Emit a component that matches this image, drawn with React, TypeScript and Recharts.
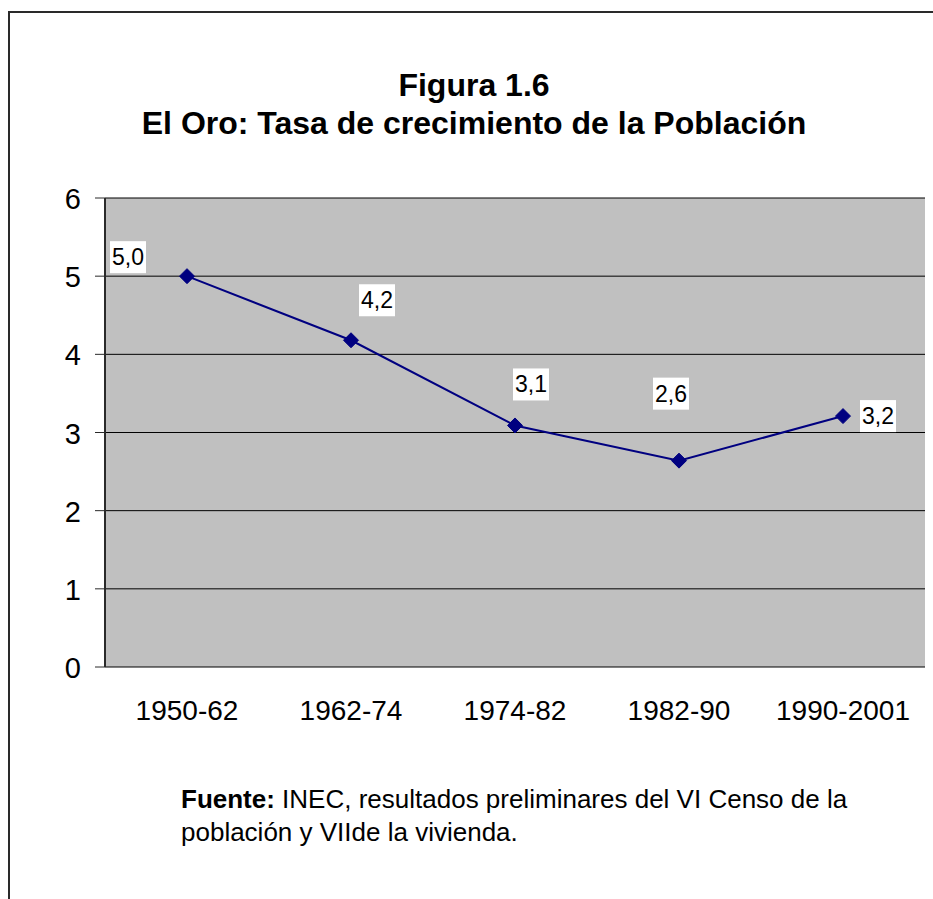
import React from 'react';
import { LineChart, Line, XAxis, YAxis, CartesianGrid, ReferenceArea, LabelList } from 'recharts';

const periods = ['1950-62', '1962-74', '1974-82', '1982-90', '1990-2001'];
const growthRates = [5.0, 4.18, 3.09, 2.64, 3.21];
const yTicks = [0, 1, 2, 3, 4, 5, 6];
const bandEdges = [0, 1, 2, 3, 4, 5];
const titleLine1 = 'Figura 1.6';
const titleLine2 = 'El Oro: Tasa de crecimiento de la Población';
const sourceLabel = 'Fuente:';
const sourceLine1 = ' INEC, resultados preliminares del VI Censo de la';
const sourceLine2 = 'población y VIIde la vivienda.';

const data = periods.map((p, i) => ({ period: p, rate: growthRates[i] }));

// label box centre offsets relative to the point (style only)
const LABEL_OFFSETS: number[][] = [[-59, -19], [26, -40], [16, -41], [-8, -67], [35, 0]];
const FONT = '"Liberation Sans", Arial, Helvetica, sans-serif';
const LINE_COLOR = '#000080';

const Diamond = (props: any) => {
  const { cx, cy, index } = props;
  if (cx == null || cy == null) return <g key={`d${index}`} />;
  const r = 7.5;
  return (
    <polygon
      key={`d${index}`}
      points={`${cx},${cy - r} ${cx + r},${cy} ${cx},${cy + r} ${cx - r},${cy}`}
      fill={LINE_COLOR}
      stroke={LINE_COLOR}
      strokeWidth={1}
    />
  );
};

const ValueLabel = (props: any) => {
  const x = props.x ?? props.viewBox?.x;
  const y = props.y ?? props.viewBox?.y;
  const index = props.index ?? 0;
  if (x == null || y == null) return null;
  const [dx, dy] = LABEL_OFFSETS[index] || [0, -30];
  const cx = x + dx;
  const cy = y + dy;
  const text = Number(props.value).toFixed(1).replace('.', ',');
  return (
    <g>
      <rect x={cx - 18} y={cy - 16} width={36} height={32} fill="#ffffff" />
      <text x={cx} y={cy + 8} textAnchor="middle" fontSize={23} fontFamily={FONT} fill="#000">
        {text}
      </text>
    </g>
  );
};

const YTick = (props: any) => (
  <text x={props.x} y={props.y + 11} textAnchor="end" fontSize={29} fontFamily={FONT} fill="#000">
    {props.payload.value}
  </text>
);

const XTick = (props: any) => (
  <text x={props.x} y={props.y + 53} textAnchor="middle" fontSize={28} fontFamily={FONT} fill="#000">
    {props.payload.value}
  </text>
);

const EmptyTick = () => <g />;

export default function App() {
  return (
    <div
      style={{
        position: 'fixed',
        left: 0,
        top: 0,
        width: 933,
        height: 899,
        overflow: 'hidden',
        background: '#ffffff',
        fontFamily: FONT,
      }}
    >
      <div
        style={{
          position: 'absolute',
          left: 8,
          top: 11,
          width: 1000,
          height: 1000,
          borderLeft: '2px solid #2a2a2a',
          borderTop: '2px solid #2a2a2a',
        }}
      />
      <div
        style={{
          position: 'absolute',
          left: 74,
          top: 66,
          width: 800,
          textAlign: 'center',
          fontSize: 32,
          fontWeight: 'bold',
          lineHeight: '38px',
          color: '#000',
        }}
      >
        <div>{titleLine1}</div>
        <div>{titleLine2}</div>
      </div>
      <div style={{ position: 'absolute', left: 0, top: 0 }}>
        <LineChart
          width={933}
          height={899}
          data={data}
          margin={{ top: 198, right: 8, bottom: 172, left: 45 }}
        >
          <CartesianGrid
            vertical={false}
            horizontal={true}
            fill="#C0C0C0"
            fillOpacity={1}
            stroke="#000"
            strokeWidth={1}
          />
          <ReferenceArea
            xAxisId="edge"
            x1={0}
            x2={5}
            y1={0}
            y2={6}
            fill="none"
            fillOpacity={0}
            stroke="#808080"
            strokeWidth={2}
          />
          <XAxis
            xAxisId="edge"
            type="number"
            domain={[0, 5]}
            ticks={bandEdges}
            height={0}
            axisLine={{ stroke: '#2a2a2a', strokeWidth: 2 }}
            tickLine={{ stroke: '#2a2a2a', strokeWidth: 1 }}
            tickSize={9}
            tick={EmptyTick}
            interval={0}
            allowDataOverflow
          />
          <XAxis
            xAxisId="cat"
            dataKey="period"
            type="category"
            scale="band"
            height={60}
            axisLine={false}
            tickLine={false}
            tickSize={0}
            tickMargin={0}
            tick={XTick}
            interval={0}
          />
          <YAxis
            width={60}
            domain={[0, 6]}
            ticks={yTicks}
            interval={0}
            axisLine={{ stroke: '#2a2a2a', strokeWidth: 2 }}
            tickLine={{ stroke: '#2a2a2a', strokeWidth: 1 }}
            tickSize={10}
            tickMargin={14}
            tick={YTick}
          />
          <Line
            xAxisId="cat"
            type="linear"
            dataKey="rate"
            stroke={LINE_COLOR}
            strokeWidth={2}
            dot={Diamond}
            activeDot={false}
            isAnimationActive={false}
          >
            <LabelList dataKey="rate" content={ValueLabel} />
          </Line>
        </LineChart>
      </div>
      <div
        style={{
          position: 'absolute',
          left: 181,
          top: 783,
          fontSize: 26,
          lineHeight: '33px',
          color: '#000',
          whiteSpace: 'nowrap',
        }}
      >
        <div>
          <b>{sourceLabel}</b>
          {sourceLine1}
        </div>
        <div>{sourceLine2}</div>
      </div>
    </div>
  );
}
